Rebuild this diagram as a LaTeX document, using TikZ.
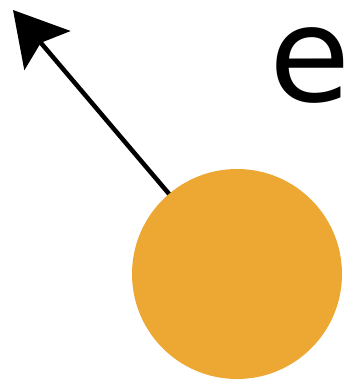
\documentclass[tikz,border=0pt]{standalone}
\usepackage{fontspec}
\setmainfont{DejaVu Sans}
\usetikzlibrary{arrows.meta}
\definecolor{ballorange}{RGB}{237,167,51}
\tikzset{
  ball/.style={circle, fill=ballorange, minimum size=210pt, inner sep=0pt},
  vecarrow/.style={line width=4.5pt, -{Stealth[length=53pt, width=60pt, inset=10pt]}},
  biglabel/.style={inner sep=0pt, font=\fontsize{132}{132}\selectfont}
}
\begin{document}
\begin{tikzpicture}[x=1pt,y=1pt]
\useasboundingbox (0,0) rectangle (350,386);
\coordinate (tip) at (13,376);
\draw[vecarrow] (237,112) -- (tip);
\node[ball] (e) at (237,112) {};
\node[biglabel, anchor=base west] (lbl) at (269,284) {e};
\end{tikzpicture}
\end{document}
